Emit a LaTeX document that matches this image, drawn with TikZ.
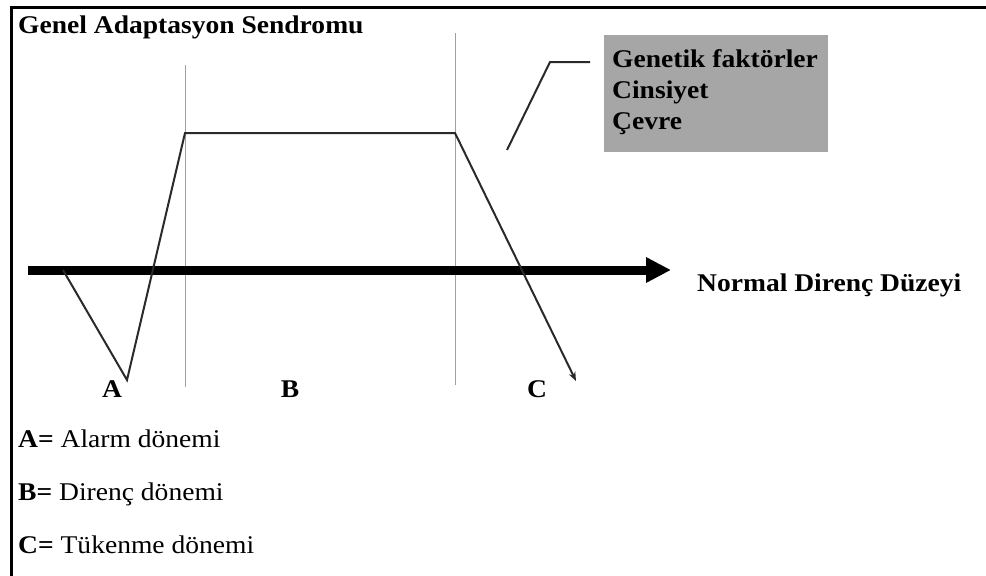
\documentclass[tikz,border=0pt]{standalone}
\usepackage{fontspec}
\setmainfont{Liberation Serif}
\newfontfamily\wideserif[FakeStretch=1.08]{Liberation Serif}
\usetikzlibrary{arrows.meta}
\definecolor{boxgray}{HTML}{A6A6A6}
\definecolor{guidegray}{HTML}{A0A0A0}
\definecolor{curvegray}{HTML}{2A2A2A}
\begin{document}
\begin{tikzpicture}[x=1pt,y=-1pt,
  txt/.style={inner sep=0pt,anchor=base west,font=\wideserif\fontsize{25.5}{25.5}\selectfont},
  btxt/.style={txt,font=\wideserif\bfseries\fontsize{25.5}{25.5}\selectfont},
  lbl/.style={inner sep=0pt,anchor=base,font=\wideserif\bfseries\fontsize{25.5}{25.5}\selectfont},
  guide/.style={draw=guidegray,line width=1pt},
  curve/.style={draw=curvegray,line width=2pt,line join=miter},
  frame/.style={draw=black,line width=3pt}]
\useasboundingbox (0,0) rectangle (986,576);
% frame
\draw[frame] (11,576) -- (11,7) -- (986,7);
% title
\node[btxt] (title) at (18,33) {Genel Adaptasyon Sendromu};
% factor box
\node[fill=boxgray,minimum width=224pt,minimum height=117pt,inner sep=0pt,anchor=north west] (box) at (604,35) {};
\node[btxt] (f1) at (612,67) {Genetik faktörler};
\node[btxt] (f2) at (612,98) {Cinsiyet};
\node[btxt] (f3) at (612,129) {Çevre};
% connector to box
\coordinate (c1) at (507,150);
\coordinate (c2) at (550,62);
\coordinate (c3) at (590,62);
\draw[curve] (c1) -- (c2) -- (c3);
% guides
\coordinate (g1t) at (185,65);
\coordinate (g1b) at (185,387);
\coordinate (g2t) at (455,33);
\coordinate (g2b) at (455,385);
\draw[guide] (g1t) -- (g1b);
\draw[guide] (g2t) -- (g2b);
% normal level arrow
\coordinate (n0) at (28,270);
\coordinate (n1) at (671,270);
\draw[line width=9pt,-{Triangle[length=25pt,width=24pt]}] (n0) -- (n1);
\node[btxt] (normal) at (697,291) {Normal Direnç Düzeyi};
% response curve
\coordinate (p0) at (63,270);
\coordinate (p1) at (127,380);
\coordinate (p2) at (185,133);
\coordinate (p3) at (455,133);
\coordinate (p4) at (576,381);
\draw[curve,-{Stealth[length=9pt,width=7pt]}] (p0) -- (p1) -- (p2) -- (p3) -- (p4);
% phase labels
\node[lbl] (la) at (112,397) {A};
\node[lbl] (lb) at (290,397) {B};
\node[lbl] (lc) at (537,397) {C};
% legend
\node[txt] (ka) at (18,447) {\textbf{A=} Alarm dönemi};
\node[txt] (kb) at (18,500) {\textbf{B=} Direnç dönemi};
\node[txt] (kc) at (18,553) {\textbf{C=} Tükenme dönemi};
\end{tikzpicture}
\end{document}
